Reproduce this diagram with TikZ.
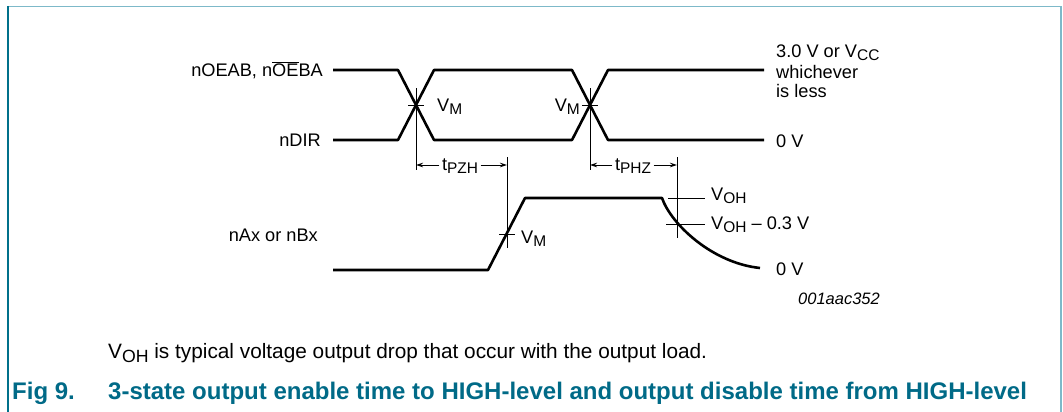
\documentclass[tikz,border=0pt]{standalone}
\usepackage{fontspec}
\setmainfont{Liberation Sans}
\usetikzlibrary{arrows.meta}
\definecolor{teal1}{HTML}{00708A}
\definecolor{teal2}{HTML}{7DB9C9}
\definecolor{capcol}{HTML}{006A87}
\newcommand{\lowsub}[1]{\raisebox{-0.35ex}{\scalebox{0.85}{#1}}}
\tikzset{
  wave/.style={line width=2.6pt, line join=round},
  thin/.style={line width=0.9pt},
  lbl/.style={inner sep=0pt, font=\fontsize{18.2}{21}\selectfont},
  dim/.style={line width=0.9pt, -{Stealth[length=7pt,width=4.5pt]}},
}
\begin{document}
\begin{tikzpicture}[x=1pt,y=-1pt]
\useasboundingbox (0,0) rectangle (1063,412);
% frame
\draw[teal2, line width=1.6pt] (8,6.5) -- (1061,6.5) -- (1061,412);
\draw[teal1, line width=1.6pt] (8,6) -- (8,412);

% waveforms top
\draw[wave] (333,70) -- (398,70) -- (434,140) -- (572,140) -- (608,70) -- (764,70);
\draw[wave] (333,140) -- (398,140) -- (434,70) -- (572,70) -- (608,140) -- (764,140);
% output waveform
\draw[wave] (333,270) -- (488,270) -- (525,198) -- (662,198) .. controls (671,224) and (712,263) .. (760,268);

% vertical reference lines
\coordinate (va) at (416,170);
\coordinate (vb) at (590,170);
\draw[thin] (416,88) -- (va);
\draw[thin] (590,88) -- (vb);
\draw[thin] (507,157) -- (507,248);
\draw[thin] (677,157) -- (677,238);
% ticks
\draw[thin] (408,105) -- (424,105);
\draw[thin] (582,105) -- (598,105);
\draw[thin] (499,234) -- (515,234);
\draw[thin] (668,198) -- (705,198);
\draw[thin] (666,224) -- (705,224);

% labels left
\node[lbl, anchor=east] (l1) at (323,70) {nOEAB, n$\overline{\hbox{OE}}$BA};
\node[lbl, anchor=east] (l2) at (321,140) {nDIR};
\node[lbl, anchor=east] (l3) at (318,235) {nAx or nBx};
% VM labels
\node[lbl, anchor=west] (vm1) at (437,107) {V\lowsub{M}};
\node[lbl, anchor=east] (vm2) at (580,107) {V\lowsub{M}};
\node[lbl, anchor=west] (vm3) at (521,239) {V\lowsub{M}};
% timing labels
\node[lbl, inner xsep=2.5pt] (tpzh) at (460,166) {t\lowsub{PZH}};
\node[lbl, inner xsep=2.5pt] (tphz) at (633,166) {t\lowsub{PHZ}};
\coordinate (tpzhL) at (416,165);
\coordinate (tpzhR) at (507,165);
\coordinate (tphzL) at (590,165);
\coordinate (tphzR) at (677,165);
\draw[dim] (tpzh.west |- tpzhL) -- (tpzhL);
\draw[dim] (tpzh.east |- tpzhR) -- (tpzhR);
\draw[dim] (tphz.west |- tphzL) -- (tphzL);
\draw[dim] (tphz.east |- tphzR) -- (tphzR);
% right labels
\node[lbl, anchor=west] (r1) at (776,53) {3.0 V or V\lowsub{CC}};
\node[lbl, anchor=west] (r2) at (776,72) {whichever};
\node[lbl, anchor=west] (r3) at (776,91) {is less};
\node[lbl, anchor=west] (r4) at (776,141) {0 V};
\node[lbl, anchor=west] (r5) at (776,269) {0 V};
\node[lbl, anchor=west] (voh) at (711,196) {V\lowsub{OH}};
\node[lbl, anchor=west] (voh2) at (711,225) {V\lowsub{OH} -- 0.3 V};
\node[inner sep=0pt, font=\fontsize{16.5}{19}\selectfont\itshape] (code) at (839,299) {001aac352};
% note and caption
\node[inner sep=0pt, anchor=west, font=\fontsize{20.8}{24}\selectfont] (note) at (108,353) {V\lowsub{OH} is typical voltage output drop that occur with the output load.};
\node[inner sep=0pt, anchor=west, text=capcol, font=\fontsize{24}{28}\selectfont\bfseries] (fig) at (12,393) {Fig 9.};
\node[inner sep=0pt, anchor=west, text=capcol, font=\fontsize{24}{28}\selectfont\bfseries] (cap) at (108,393) {3-state output enable time to HIGH-level and output disable time from HIGH-level};
\end{tikzpicture}
\end{document}
